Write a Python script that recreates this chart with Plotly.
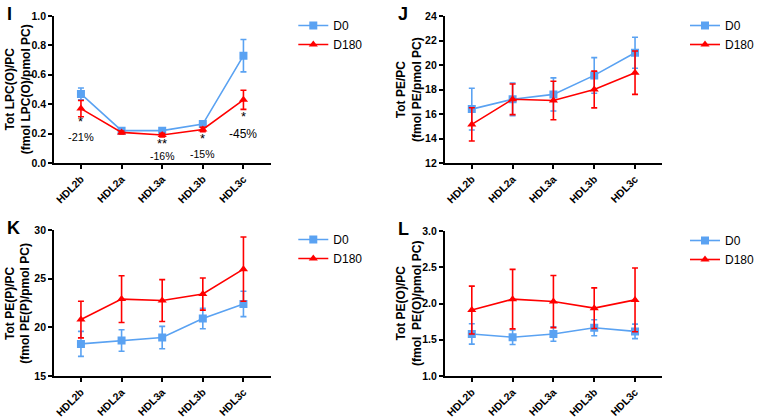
import plotly.graph_objects as go

W, H = 760, 420
categories = ["HDL2b", "HDL2a", "HDL3a", "HDL3b", "HDL3c"]
series_names = ["D0", "D180"]

# Panel I: Tot LPC(O)/PC
I_d0 = [0.47, 0.22, 0.22, 0.265, 0.73]
I_d0_err = [0.04, 0.012, 0.012, 0.015, 0.11]
I_d180 = [0.37, 0.208, 0.19, 0.228, 0.43]
I_d180_err = [0.055, 0.01, 0.012, 0.015, 0.065]

# Panel J: Tot PE/PC
J_d0 = [16.4, 17.2, 17.6, 19.15, 21.0]
J_d0_err = [1.7, 1.33, 1.35, 1.45, 1.27]
J_d180 = [15.15, 17.2, 17.1, 18.0, 19.37]
J_d180_err = [1.36, 1.25, 1.57, 1.5, 1.77]

# Panel K: Tot PE(P)/PC
K_d0 = [18.3, 18.65, 18.95, 20.9, 22.4]
K_d0_err = [1.28, 1.1, 1.15, 1.05, 1.3]
K_d180 = [20.8, 22.9, 22.75, 23.42, 25.98]
K_d180_err = [1.88, 2.4, 2.15, 1.65, 3.3]

# Panel L: Tot PE(O)/PC
L_d0 = [1.58, 1.535, 1.58, 1.665, 1.615]
L_d0_err = [0.14, 0.1, 0.1, 0.11, 0.1]
L_d180 = [1.91, 2.06, 2.027, 1.936, 2.05]
L_d180_err = [0.33, 0.41, 0.36, 0.28, 0.44]

# significance marks in panel I
sig_cats = ["HDL2b", "HDL3a", "HDL3b", "HDL3c"]
sig_marks = ["*", "**", "*", "*"]
sig_y = [0.28, 0.135, 0.17, 0.316]
pct_labels = ["-21%", "-16%", "-15%", "-45%"]
pct_y = [0.18, 0.045, 0.063, 0.2]

BLUE = "#5AA2F2"
RED = "#FF0000"
FONT = "Liberation Sans, Arial, sans-serif"

panels = [
    dict(letter="I", d0=I_d0, e0=I_d0_err, d1=I_d180, e1=I_d180_err,
         yr=[0, 1.0], dt=0.2, fmt=".1f",
         title="Tot LPC(O)/PC<br>(fmol LPC(O)/pmol PC)",
         px=(55, 275), py=(16, 163)),
    dict(letter="J", d0=J_d0, e0=J_d0_err, d1=J_d180, e1=J_d180_err,
         yr=[12, 24], dt=2, fmt="d",
         title="Tot PE/PC<br>(fmol PE/pmol PC)",
         px=(452, 673), py=(16, 163)),
    dict(letter="K", d0=K_d0, e0=K_d0_err, d1=K_d180, e1=K_d180_err,
         yr=[15, 30], dt=5, fmt="d",
         title="Tot PE(P)/PC<br>(fmol PE(P)/pmol PC)",
         px=(55, 275), py=(230, 376)),
    dict(letter="L", d0=L_d0, e0=L_d0_err, d1=L_d180, e1=L_d180_err,
         yr=[1, 3], dt=0.5, fmt=".1f",
         title="Tot PE(O)/PC<br>(fmol  PE(O)/pmol PC)",
         px=(452, 673), py=(231, 376)),
]

fig = go.Figure()
annotations = []
layout = {}
for i, p in enumerate(panels):
    n = "" if i == 0 else str(i + 1)
    xa, ya = "x" + n, "y" + n
    lg = "legend" + n
    for name, vals, errs, col, sym in [
        ("D0", p["d0"], p["e0"], BLUE, "square"),
        ("D180", p["d1"], p["e1"], RED, "triangle-up"),
    ]:
        fig.add_trace(go.Scatter(
            x=categories, y=vals, name=name, mode="lines+markers",
            xaxis=xa, yaxis=ya, legend=lg,
            line=dict(color=col, width=1.6),
            marker=dict(symbol=sym, size=8, color=col),
            error_y=dict(type="data", array=errs, visible=True,
                         color=col, thickness=1.6, width=3),
        ))
    x0, x1 = p["px"]
    y0, y1 = p["py"]
    layout["xaxis" + n] = dict(
        domain=[x0 / W, x1 / W], anchor=ya, type="category", automargin=False,
        range=[-0.66, 4.67], showline=True, linecolor="black", linewidth=2,
        ticks="outside", ticklen=4, tickwidth=1.5, tickcolor="black",
        tickangle=-45, showgrid=False, zeroline=False,
        tickfont=dict(family=FONT, size=10.5, color="black", weight="bold"),
    )
    layout["yaxis" + n] = dict(
        domain=[1 - y1 / H, 1 - y0 / H], anchor=xa, automargin=False,
        range=p["yr"], dtick=p["dt"], tick0=p["yr"][0], tickformat=p["fmt"],
        showline=True, linecolor="black", linewidth=2,
        ticks="outside", ticklen=4, tickwidth=1.5, tickcolor="black",
        showgrid=False, zeroline=False,
        tickfont=dict(family=FONT, size=10.5, color="black", weight="bold"),
    )
    layout[lg] = dict(
        x=(x1 + 23) / W, y=1 - 11 / H - (y0 - 16) / H, xanchor="left", yanchor="top",
        bgcolor="rgba(0,0,0,0)", tracegroupgap=0,
        font=dict(family=FONT, size=12, color="black"),
    )
    # y-axis title
    annotations.append(dict(
        text="<b>" + p["title"] + "</b>", xref="paper", yref="paper",
        x=(x0 - 37) / W, y=1 - (y0 + y1) / 2 / H, xanchor="center", yanchor="middle",
        textangle=-90, showarrow=False,
        font=dict(family=FONT, size=12, color="black"),
    ))
    # panel letter
    annotations.append(dict(
        text="<b>" + p["letter"] + "</b>", xref="paper", yref="paper",
        x=(x0 - 50) / W, y=1 - (y0 - 14) / H, xanchor="left", yanchor="top",
        showarrow=False, font=dict(family=FONT, size=18, color="black"),
    ))

for c, m, y in zip(sig_cats, sig_marks, sig_y):
    annotations.append(dict(text=m, x=c, y=y, xref="x", yref="y",
                            showarrow=False,
                            font=dict(family=FONT, size=13, color="black")))
for c, t, y, s in zip(sig_cats, pct_labels, pct_y, [11, 10.5, 10.5, 12]):
    annotations.append(dict(text=t, x=c, y=y, xref="x", yref="y",
                            showarrow=False,
                            font=dict(family=FONT, size=s, color="black")))

fig.update_layout(
    width=W, height=H, margin=dict(l=0, r=0, t=0, b=0),
    paper_bgcolor="white", plot_bgcolor="white",
    annotations=annotations, **layout,
)
fig.write_html("out.html", config={"displayModeBar": False},
               post_script="document.body.style.margin='0';document.body.style.overflow='hidden';")
